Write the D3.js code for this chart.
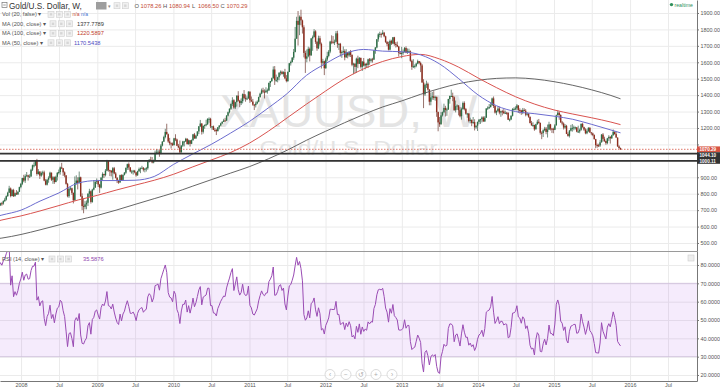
<!DOCTYPE html>
<html>
<head>
<meta charset="utf-8">
<script src="https://cdn.jsdelivr.net/npm/d3@7"></script>
<style>
body { margin: 0; background: #fff; }
svg { display: block; font-family: "Liberation Sans", Arial, sans-serif; }
</style>
</head>
<body>
<div id="chart"></div>
<script>
// weekly XAUUSD bars, first bar = week of 4 Jun 2007 (open = previous close)
const firstWeek = "2007-06-04";

const weekClose = [
  655,655,655,650,656,666,680,668,668,670,660,669,672,700,715,730,742,740,755,764,785,806,832,786,822,785,803,796,812,840,860,
  895,880,907,912,903,905,946,973,973,1000,920,935,910,926,930,880,855,885,897,928,885,900,871,903,927,932,960,955,930,912,860,785,830,833,805,760,865,880,865,900,785,725,720,735,745,800,815,750,825,837,873,880,
  856,837,898,920,913,940,1001,943,940,929,955,923,897,877,868,913,884,915,928,957,980,960,935,935,940,930,912,937,950,955,958,946,952,955,995,1007,1003,990,1003,1049,1052,1056,1045,1093,1117,1145,1176,1162,1118,1107,1105,1096,
  1137,1130,1092,1082,1052,1093,1118,1118,1134,1102,1125,1104,1126,1161,1137,1153,1179,1210,1227,1177,1213,1218,1223,1256,1256,1210,1210,1189,1188,1181,1204,1215,1228,1237,1246,1245,1275,1296,1317,1346,1369,1325,1357,1397,1366,1352,1364,1406,1383,1377,1380,1421,
  1369,1361,1342,1339,1349,1360,1388,1409,1429,1421,1418,1428,1429,1474,1486,1503,1556,1491,1493,1509,1536,1542,1529,1540,1502,1486,1541,1594,1602,1628,1663,1744,1852,1828,1877,1855,1813,1657,1622,1636,1682,1642,1745,1754,1788,1724,1685,1746,1712,1597,1606,1564,
  1617,1639,1665,1726,1725,1724,1725,1776,1711,1712,1657,1662,1668,1630,1660,1642,1664,1645,1585,1591,1572,1622,1591,1627,1572,1604,1580,1590,1584,1618,1609,1618,1616,1671,1690,1740,1770,1773,1771,1780,1758,1724,1711,1677,1730,1714,1752,1712,1705,1696,1657,1656,1657,
  1662,1687,1659,1667,1667,1609,1572,1576,1578,1592,1607,1596,1581,1477,1405,1463,1469,1434,1360,1386,1393,1383,1388,1297,1234,1223,1277,1296,1322,1310,1313,1376,1395,1395,1387,1308,1333,1337,1308,1272,1315,1352,1315,1287,1288,1243,1250,1230,1236,1204,1214,1237,
  1250,1254,1264,1240,1263,1319,1324,1327,1339,1380,1334,1294,1304,1318,1294,1302,1301,1290,1293,1292,1250,1252,1274,1315,1316,1320,1337,1310,1307,1294,1310,1305,1281,1287,1268,1230,1216,1218,1192,1223,1238,1231,1171,1169,1186,1196,1176,1190,1222,1196,1195,1189,
  1216,1277,1293,1279,1234,1227,1203,1213,1164,1152,1184,1199,1201,1204,1204,1178,1179,1189,1225,1205,1190,1168,1181,1201,1173,1167,1157,1132,1096,1095,1094,1113,1160,1134,1121,1108,1137,1146,1137,1156,1177,1163,1142,1088,1078.26,1070.29
];

const weekHigh = [
  670,662,662,658,661,668,685,688,674,681,673,672,675,705,720,738,745,750,760,775,790,812,848,838,828,830,808,822,814,843,866,
  897,915,918,932,916,918,952,977,991,1004,1012,950,936,935,940,940,890,890,906,934,929,907,905,910,932,947,965,988,957,936,912,866,840,842,837,807,905,912,900,935,904,802,770,755,759,803,830,820,830,883,875,893,
  884,860,900,930,922,950,1006,1005,946,943,962,963,932,900,885,916,918,917,932,960,983,990,962,945,945,945,932,940,959,960,970,962,955,963,999,1010,1025,1023,1008,1062,1071,1070,1066,1102,1120,1153,1195,1226,1166,1140,1112,1112,
  1140,1162,1135,1103,1124,1095,1122,1122,1140,1138,1130,1126,1130,1164,1170,1158,1180,1212,1249,1230,1215,1222,1250,1259,1265,1262,1212,1215,1200,1195,1206,1217,1232,1242,1256,1262,1279,1300,1320,1350,1387,1375,1360,1398,1424,1371,1380,1410,1431,1405,1392,1424,
  1423,1392,1377,1346,1361,1368,1391,1415,1440,1445,1435,1448,1440,1477,1487,1507,1575,1577,1525,1512,1540,1550,1549,1545,1560,1522,1545,1596,1610,1632,1681,1815,1877,1912,1885,1920,1860,1825,1670,1678,1695,1690,1748,1763,1802,1795,1730,1762,1761,1720,1621,1610,
  1628,1664,1675,1731,1764,1760,1738,1790,1792,1717,1718,1672,1696,1679,1680,1663,1667,1675,1648,1597,1595,1628,1640,1632,1628,1608,1626,1595,1597,1622,1626,1625,1627,1675,1693,1741,1777,1786,1780,1796,1785,1762,1730,1725,1738,1737,1754,1755,1723,1726,1700,1669,1694,
  1678,1693,1697,1684,1683,1672,1616,1619,1587,1597,1616,1608,1604,1590,1497,1470,1488,1477,1437,1416,1419,1424,1396,1392,1300,1267,1298,1300,1348,1335,1323,1378,1397,1433,1415,1392,1367,1344,1339,1327,1324,1361,1362,1322,1292,1290,1263,1251,1267,1253,1216,1239,
  1255,1256,1271,1271,1272,1320,1332,1346,1355,1385,1392,1338,1307,1331,1330,1305,1311,1315,1306,1298,1296,1258,1278,1321,1326,1332,1346,1339,1320,1311,1322,1320,1315,1296,1290,1270,1243,1235,1220,1226,1250,1255,1233,1180,1192,1207,1206,1221,1238,1225,1200,1202,
  1224,1282,1307,1300,1284,1243,1234,1224,1219,1174,1188,1219,1224,1215,1209,1205,1214,1197,1228,1232,1208,1198,1193,1205,1205,1175,1172,1161,1134,1105,1104,1126,1163,1169,1147,1124,1140,1156,1150,1159,1191,1179,1177,1142,1095,1080.94
];

const weekLow = [
  645,642,648,640,648,652,664,662,660,664,652,655,660,670,698,708,725,727,733,750,758,781,805,778,784,780,783,792,792,810,833,
  852,870,866,903,880,897,903,938,960,968,910,916,890,903,912,876,851,850,867,893,878,860,860,870,880,918,916,950,908,900,855,778,775,820,793,741,757,855,826,862,780,700,681,705,705,725,780,740,745,820,836,859,
  841,805,832,880,896,905,937,934,907,905,885,918,893,865,860,868,878,880,911,921,945,945,930,921,916,924,904,909,932,925,952,935,930,935,946,990,1001,985,985,1000,1040,1045,1025,1040,1088,1115,1137,1160,1110,1095,1075,1090,
  1093,1120,1090,1077,1045,1050,1085,1088,1115,1100,1098,1087,1102,1122,1134,1133,1150,1163,1205,1160,1166,1195,1210,1218,1232,1200,1190,1187,1176,1157,1179,1192,1210,1223,1238,1240,1243,1270,1289,1310,1335,1317,1315,1330,1360,1327,1340,1350,1375,1360,1370,1378,
  1353,1360,1335,1309,1325,1344,1356,1385,1405,1412,1380,1414,1409,1425,1450,1480,1500,1462,1480,1478,1490,1520,1525,1512,1497,1478,1480,1540,1580,1598,1615,1660,1742,1702,1765,1825,1775,1630,1535,1600,1630,1605,1640,1670,1750,1712,1670,1680,1702,1562,1585,1522,
  1560,1606,1630,1655,1710,1712,1705,1722,1688,1675,1635,1627,1653,1612,1627,1624,1633,1632,1576,1527,1532,1535,1564,1589,1562,1547,1575,1557,1565,1565,1585,1598,1598,1615,1652,1685,1725,1752,1750,1768,1752,1718,1698,1672,1672,1705,1710,1701,1690,1692,1635,1648,1625,
  1645,1660,1655,1651,1660,1603,1554,1565,1562,1570,1588,1588,1540,1475,1321,1395,1444,1428,1338,1338,1372,1371,1366,1268,1180,1207,1220,1270,1290,1270,1274,1310,1348,1391,1363,1305,1295,1310,1277,1265,1251,1311,1307,1281,1262,1234,1228,1211,1225,1185,1195,1182,
  1223,1225,1234,1238,1237,1261,1309,1316,1325,1335,1322,1288,1278,1297,1283,1268,1277,1285,1285,1281,1250,1240,1248,1270,1307,1308,1307,1292,1288,1280,1284,1301,1271,1275,1262,1228,1214,1207,1183,1191,1219,1226,1160,1132,1145,1180,1162,1142,1188,1185,1170,1168,
  1187,1215,1276,1250,1232,1216,1191,1195,1163,1147,1142,1179,1178,1186,1190,1174,1170,1168,1183,1202,1182,1162,1162,1175,1170,1156,1150,1130,1077,1080,1084,1085,1111,1117,1115,1098,1101,1121,1105,1134,1153,1159,1140,1085,1073,1066.5
];

// moving averages, quarterly
const maDates = ["2007-09-01","2007-10-01","2008-01-01","2008-04-01","2008-07-01","2008-10-01","2009-01-01","2009-04-01","2009-07-01","2009-10-01",
  "2010-01-01","2010-04-01","2010-07-01","2010-10-01","2011-01-01","2011-04-01","2011-07-01","2011-10-01","2012-01-01","2012-04-01",
  "2012-07-01","2012-10-01","2013-01-01","2013-04-01","2013-07-01","2013-10-01","2014-01-01","2014-04-01","2014-07-01","2014-10-01",
  "2015-01-01","2015-04-01","2015-07-01","2015-10-01","2015-11-16"];
const ma200 = [525,530,552,580,610,640,668,700,735,770,805,845,885,925,965,1012,1065,1125,1180,1232,1282,1328,1365,1405,1440,1470,1490,1502,1505,1498,1482,1460,1432,1398,1377.78];
const ma100 = [630,640,665,695,728,762,790,822,852,882,918,962,1005,1050,1108,1180,1262,1345,1425,1500,1560,1605,1635,1648,1620,1570,1505,1445,1390,1345,1310,1285,1262,1236,1220.59];
const ma50 = [660,670,700,755,805,865,880,880,882,905,978,1040,1100,1168,1240,1322,1410,1520,1592,1652,1678,1668,1664,1645,1590,1500,1402,1335,1300,1287,1272,1253,1222,1188,1170.54];

const supportLevels = [1044.10, 1000.11];
const lastPrice = 1070.29;

const timeTicks = ["2008-01-01","2008-07-01","2009-01-01","2009-07-01","2010-01-01","2010-07-01","2011-01-01","2011-07-01","2012-01-01",
  "2012-07-01","2013-01-01","2013-07-01","2014-01-01","2014-07-01","2015-01-01","2015-07-01","2016-01-01","2016-07-01"];
const priceTicks = [500,600,700,800,900,1000,1100,1200,1300,1400,1500,1600,1700,1800,1900];
const rsiTicks = [20,30,40,50,60,70,80];
const rsiBand = [30, 70];

if (weekHigh.length !== weekClose.length || weekLow.length !== weekClose.length)
  throw new Error("length mismatch " + weekClose.length + " " + weekHigh.length + " " + weekLow.length);

const width = 720, height = 388;
const plotW = 697;
const priceBottom = 251, rsiTop = 251, rsiBottom = 381;

const parse = d3.timeParse("%Y-%m-%d");
const start = parse(firstWeek);

const bars = weekClose.map((c, i) => ({
  date: d3.timeDay.offset(start, 7 * i),
  o: i ? weekClose[i - 1] : c,
  h: weekHigh[i], l: weekLow[i], c: c
}));

// RSI (14) with Wilder smoothing
function rsi(closes, n) {
  const out = closes.map(() => null);
  let ag = 0, al = 0;
  for (let i = 1; i <= n; i++) {
    const d = closes[i] - closes[i - 1];
    ag += Math.max(d, 0); al += Math.max(-d, 0);
  }
  ag /= n; al /= n;
  out[n] = 100 - 100 / (1 + ag / al);
  for (let i = n + 1; i < closes.length; i++) {
    const d = closes[i] - closes[i - 1];
    ag = (ag * (n - 1) + Math.max(d, 0)) / n;
    al = (al * (n - 1) + Math.max(-d, 0)) / n;
    out[i] = 100 - 100 / (1 + ag / al);
  }
  return out;
}
const rsiValues = rsi(weekClose, 14);

const x = d3.scaleTime().domain([new Date(2007, 8, 22), new Date(2016, 10, 17)]).range([0, plotW]);
const yPrice = d3.scaleLinear().domain([451.3, 1979.1]).range([priceBottom, 0]);
const yRsi = d3.scaleLinear().domain([16.73, 87.64]).range([rsiBottom, rsiTop]);

const svg = d3.select("#chart").append("svg")
  .attr("width", width).attr("height", height);

const defs = svg.append("defs");
defs.append("clipPath").attr("id", "clipPrice").append("rect")
  .attr("x", 0).attr("y", 0).attr("width", plotW).attr("height", priceBottom);
defs.append("clipPath").attr("id", "clipRsi").append("rect")
  .attr("x", 0).attr("y", rsiTop).attr("width", plotW).attr("height", rsiBottom - rsiTop);

// grid
svg.append("g").attr("transform", `translate(0,${rsiBottom})`)
  .call(d3.axisBottom(x).tickValues(timeTicks.map(parse)).tickSize(-rsiBottom).tickFormat(""))
  .call(g => g.select(".domain").remove())
  .selectAll("line").attr("stroke", "#ebebeb");
svg.append("g")
  .call(d3.axisLeft(yPrice).tickValues(priceTicks).tickSize(-plotW).tickFormat(""))
  .call(g => g.select(".domain").remove())
  .selectAll("line").attr("stroke", "#ebebeb");
svg.append("g")
  .call(d3.axisLeft(yRsi).tickValues(rsiTicks).tickSize(-plotW).tickFormat(""))
  .call(g => g.select(".domain").remove())
  .selectAll("line").attr("stroke", "#ebebeb");

// RSI band
svg.append("rect")
  .attr("x", 0).attr("y", yRsi(rsiBand[1])).attr("width", plotW)
  .attr("height", yRsi(rsiBand[0]) - yRsi(rsiBand[1]))
  .attr("fill", "rgba(160,60,230,0.1)");
rsiBand.forEach(v => svg.append("line")
  .attr("x1", 0).attr("x2", plotW).attr("y1", yRsi(v)).attr("y2", yRsi(v))
  .attr("stroke", "#cdbcd9").attr("stroke-width", 0.8));

// watermark
svg.append("text").attr("x", plotW / 2).attr("y", 127)
  .attr("text-anchor", "middle").attr("font-size", 47).attr("fill", "#e4e4e4")
  .attr("textLength", 258).attr("lengthAdjust", "spacingAndGlyphs")
  .text("XAUUSD, W");
svg.append("text").attr("x", plotW / 2).attr("y", 155)
  .attr("text-anchor", "middle").attr("font-size", 20).attr("fill", "#e4e4e4")
  .attr("textLength", 178).attr("lengthAdjust", "spacingAndGlyphs")
  .text("Gold/U.S. Dollar");

// candles
const candles = svg.append("g").attr("clip-path", "url(#clipPrice)");
const upCol = "#2c6e45", downCol = "#8e2c1d";
candles.selectAll("line").data(bars).join("line")
  .attr("x1", d => x(d.date)).attr("x2", d => x(d.date))
  .attr("y1", d => yPrice(d.h)).attr("y2", d => yPrice(d.l))
  .attr("stroke", d => d.c >= d.o ? "#4f7260" : "#7d4f47").attr("stroke-width", 0.8);
candles.selectAll("rect").data(bars).join("rect")
  .attr("x", d => x(d.date) - 0.7)
  .attr("width", 1.4)
  .attr("y", d => yPrice(Math.max(d.o, d.c)))
  .attr("height", d => Math.max(1, Math.abs(yPrice(d.o) - yPrice(d.c))))
  .attr("fill", d => d.c >= d.o ? upCol : downCol);

// moving averages
const maLine = d3.line().x(d => x(d[0])).y(d => yPrice(d[1])).curve(d3.curveMonotoneX);
const maG = svg.append("g").attr("clip-path", "url(#clipPrice)").attr("fill", "none");
[[ma200, "#555", 0.9], [ma100, "#d9534f", 1], [ma50, "#6c6ccf", 1]].forEach(([vals, col, sw]) => {
  maG.append("path")
    .attr("d", maLine(maDates.map((d, i) => [parse(d), vals[i]])))
    .attr("stroke", col).attr("stroke-width", sw);
});

// horizontal levels
svg.append("line").attr("x1", 0).attr("x2", plotW)
  .attr("y1", yPrice(lastPrice)).attr("y2", yPrice(lastPrice))
  .attr("stroke", "#d75442").attr("stroke-width", 0.8).attr("stroke-dasharray", "1.5,1.5");
supportLevels.forEach(v => svg.append("line")
  .attr("x1", 0).attr("x2", plotW).attr("y1", yPrice(v)).attr("y2", yPrice(v))
  .attr("stroke", "#333").attr("stroke-width", 1.6));

// RSI line
svg.append("path").attr("clip-path", "url(#clipRsi)")
  .attr("d", d3.line().defined(d => d[1] != null).x(d => x(d[0])).y(d => yRsi(d[1]))(bars.map((b, i) => [b.date, rsiValues[i]])))
  .attr("fill", "none").attr("stroke", "#9a4cb4").attr("stroke-width", 1);

// pane separator
svg.append("line").attr("x1", 0).attr("x2", plotW).attr("y1", rsiTop + 0.5).attr("y2", rsiTop + 0.5)
  .attr("stroke", "#9a9a9a");

// price tags: stack them so they do not overlap (top to bottom)
const tagH = 5.8;
const tags = [[lastPrice, "#d75442"], [supportLevels[0], "#333"], [supportLevels[1], "#333"]]
  .map(([v, col]) => ({ v, col, y: yPrice(v) }))
  .sort((a, b) => a.y - b.y);
tags.forEach((t, i) => { if (i && t.y < tags[i - 1].y + tagH) t.y = tags[i - 1].y + tagH; });

// axes
function styleAxis(g) {
  g.select(".domain").attr("stroke", "#777");
  g.selectAll(".tick line").attr("stroke", "#777");
  g.selectAll(".tick text").attr("fill", "#555").attr("font-size", 5.4)
    .attr("font-family", "'Liberation Sans', Arial, sans-serif");
}
svg.append("g").attr("transform", `translate(0,${rsiBottom})`)
  .call(d3.axisBottom(x).tickValues(timeTicks.map(parse)).tickSize(0).tickSizeOuter(0).tickPadding(2.5)
    .tickFormat(d => d.getMonth() === 0 ? d3.timeFormat("%Y")(d) : "Jul"))
  .call(styleAxis);
svg.append("g").attr("transform", `translate(${plotW},0)`)
  .call(d3.axisRight(yPrice).tickValues(priceTicks).tickSize(2).tickSizeOuter(0).tickPadding(1.5)
    .tickFormat(d3.format(".2f")))
  .call(styleAxis)
  // labels hidden behind the price tags
  .call(g => g.selectAll(".tick text")
    .filter(d => tags.some(t => Math.abs(t.y - yPrice(d)) < 6))
    .remove());
svg.append("g").attr("transform", `translate(${plotW},0)`)
  .call(d3.axisRight(yRsi).tickValues(rsiTicks).tickSize(2).tickSizeOuter(0).tickPadding(1.5)
    .tickFormat(d3.format(".4f")))
  .call(styleAxis);

tags.forEach(t => {
  svg.append("rect").attr("x", plotW).attr("y", t.y - tagH / 2).attr("width", width - plotW).attr("height", tagH).attr("fill", t.col);
  svg.append("text").attr("x", plotW + 2.5).attr("y", t.y + 1.6)
    .attr("font-size", 4.6).attr("font-weight", "bold").attr("fill", "#fff").text(d3.format(".2f")(t.v));
});

// legend
function icons(x0, yc, n) {
  for (let i = 0; i < n; i++) {
    svg.append("rect").attr("x", x0 + i * 8.3).attr("y", yc - 3).attr("width", 6).attr("height", 6)
      .attr("fill", "#f0f0f0").attr("stroke", "#cfcfcf").attr("stroke-width", 0.6);
    svg.append("rect").attr("x", x0 + i * 8.3 + 1.8).attr("y", yc - 1.2).attr("width", 2.4).attr("height", 2.4)
      .attr("fill", "#d6d6d6");
  }
}
const lg = svg.append("g").attr("fill", "#444");
// title row
svg.append("rect").attr("x", 2).attr("y", 2.5).attr("width", 5).attr("height", 5)
  .attr("fill", "none").attr("stroke", "#777").attr("stroke-width", 0.7);
svg.append("line").attr("x1", 3.2).attr("x2", 5.8).attr("y1", 5).attr("y2", 5).attr("stroke", "#777").attr("stroke-width", 0.7);
lg.append("text").attr("x", 9).attr("y", 8.5).attr("font-size", 8.2).attr("fill", "#333").text("Gold/U.S. Dollar, W,");
svg.append("rect").attr("x", 96).attr("y", 2).attr("width", 10.5).attr("height", 7.5).attr("fill", "#9e9e9e");
lg.append("text").attr("x", 108).attr("y", 7.5).attr("font-size", 5).attr("fill", "#888").text("▾");
icons(114, 5.7, 2);
const ohlc = [["O", "1078.26", 134.5], ["H", "1080.94", 163], ["L", "1066.50", 192], ["C", "1070.29", 220.5]];
ohlc.forEach(([k, v, xx]) => {
  lg.append("text").attr("x", xx).attr("y", 7.8).attr("font-size", 5.8).attr("fill", "#555").text(k);
  lg.append("text").attr("x", xx + 6).attr("y", 7.8).attr("font-size", 5.8).attr("fill", "#c44a36").text(v);
});

const legendRows = [
  ["Vol (20, false) ▾", 14.3, 48],
  ["MA (200, close) ▾", 23.8, 50],
  ["MA (100, close) ▾", 33.3, 50],
  ["MA (50, close) ▾", 42.8, 48]
];
legendRows.forEach(([t, yc, ix]) => {
  lg.append("text").attr("x", 2).attr("y", yc + 2).attr("font-size", 5.7).attr("fill", "#555").text(t);
  icons(ix, yc, 3);
});
lg.append("text").attr("x", 72.5).attr("y", 16.3).attr("font-size", 5).attr("fill", "#c44a36").text("n/a");
lg.append("text").attr("x", 81).attr("y", 16.3).attr("font-size", 5).attr("fill", "#3f6fd1").text("n/a");
lg.append("text").attr("x", 77).attr("y", 25.8).attr("font-size", 5.7).attr("fill", "#333").text("1377.7789");
lg.append("text").attr("x", 77).attr("y", 35.3).attr("font-size", 5.7).attr("fill", "#c0392b").text("1220.5897");
lg.append("text").attr("x", 74).attr("y", 44.8).attr("font-size", 5.7).attr("fill", "#4d4dbf").text("1170.5438");

// RSI legend
lg.append("text").attr("x", 2).attr("y", 261).attr("font-size", 5.7).attr("fill", "#555").text("RSI (14, close) ▾");
icons(49, 259, 3);
lg.append("text").attr("x", 83).attr("y", 261).attr("font-size", 5.7).attr("fill", "#8e44ad").text("35.5876");
svg.append("rect").attr("x", 688).attr("y", 255).attr("width", 6).attr("height", 6)
  .attr("fill", "#eee").attr("stroke", "#ccc").attr("stroke-width", 0.6);

// realtime marker
svg.append("circle").attr("cx", 671.5).attr("cy", 4.6).attr("r", 1.7).attr("fill", "#2f8f5b");
svg.append("text").attr("x", 674.5).attr("y", 6.6).attr("font-size", 5.2).attr("fill", "#2f8f5b").text("realtime");

// navigation buttons
const navButtons = [["‹", 330], ["−", 346], ["↺", 361], ["+", 376], ["›", 392]];
navButtons.forEach(([s, cx]) => {
  svg.append("circle").attr("cx", cx).attr("cy", 374.5).attr("r", 5)
    .attr("fill", "rgba(255,255,255,0.8)").attr("stroke", "#d0d0d0").attr("stroke-width", 0.8);
  svg.append("text").attr("x", cx).attr("y", 376.8).attr("text-anchor", "middle")
    .attr("font-size", 6.5).attr("fill", "#aaa").text(s);
});
</script>
</body>
</html>
